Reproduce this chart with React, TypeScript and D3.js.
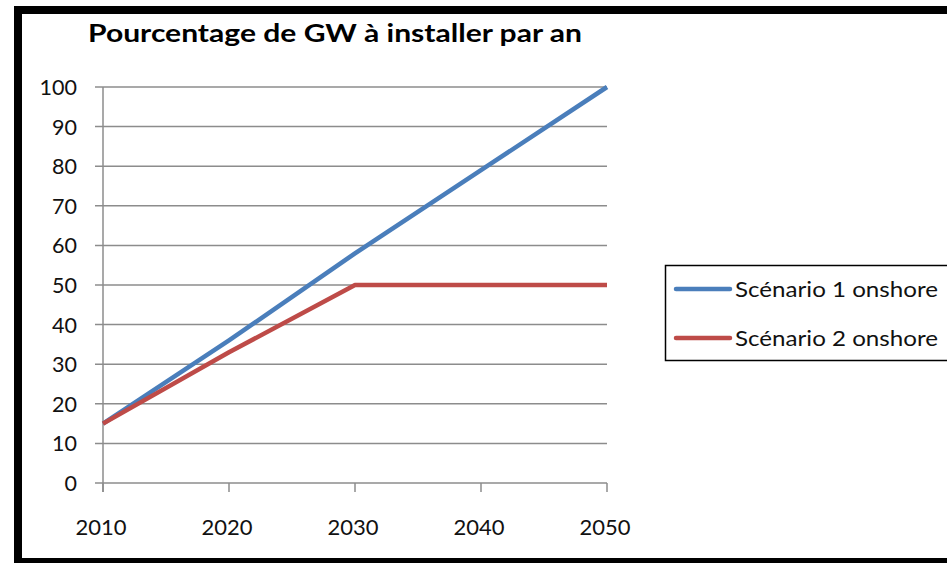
import React from 'react';
import * as d3 from 'd3';

const years = [2010, 2020, 2030, 2040, 2050];
const scenario1 = [15, 36, 58, 79, 100];
const scenario2 = [15, 33, 50, 50, 50];
const yTicks = [0, 10, 20, 30, 40, 50, 60, 70, 80, 90, 100];
const seriesNames = ['Scénario 1 onshore', 'Scénario 2 onshore'];
const seriesColors = ['#4A7EBB', '#BE4B48'];
const title = 'Pourcentage de GW à installer par an';

const W = 947;
const H = 563;
const font = 'Lato, "Open Sans", sans-serif';

export default function App() {
  const x = d3.scaleLinear().domain([2010, 2050]).range([103, 607]);
  const y = d3.scaleLinear().domain([0, 100]).range([483, 87]);
  const line = d3.line<[number, number]>()
    .x(d => x(d[0]))
    .y(d => y(d[1]));
  const series = [scenario1, scenario2].map(vals => years.map((yr, i) => [yr, vals[i]] as [number, number]));
  const grid = '#8c8c8c';

  return (
    <svg width={W} height={H} style={{ position: 'absolute', left: 0, top: 0, background: '#fff' }}>
      <rect x={18} y={10} width={1000} height={552} fill="#fff" stroke="#000" strokeWidth={8} />
      <text x={88} y={42} fontFamily={font} fontWeight="bold" fontSize={25.5} fill="#000"
        textLength={494} lengthAdjust="spacingAndGlyphs">{title}</text>

      {/* grid lines and y labels */}
      {yTicks.map(t => (
        <g key={t}>
          <line x1={95} x2={607} y1={y(t)} y2={y(t)} stroke={grid} strokeWidth={1.5} />
          <text x={77} y={y(t) + 8} textAnchor="end" fontFamily={font} fontSize={21.5} fill="#111">{t}</text>
        </g>
      ))}
      <line x1={103} x2={103} y1={y(100)} y2={y(0) + 9} stroke={grid} strokeWidth={1.5} />
      {years.map(yr => (
        <g key={yr}>
          <line x1={x(yr)} x2={x(yr)} y1={y(0)} y2={y(0) + 9} stroke={grid} strokeWidth={1.5} />
          <text x={x(yr) - 2} y={535} textAnchor="middle" fontFamily={font} fontSize={22} fill="#111">{yr}</text>
        </g>
      ))}

      {series.map((s, i) => (
        <path key={i} d={line(s) || ''} fill="none" stroke={seriesColors[i]} strokeWidth={4.5} strokeLinejoin="round" />
      ))}

      {/* legend */}
      <rect x={665.5} y={265.5} width={320} height={95} fill="#fff" stroke="#000" strokeWidth={1.5} />
      {seriesNames.map((n, i) => (
        <g key={n}>
          <line x1={676} x2={730} y1={289 + i * 49} y2={289 + i * 49} stroke={seriesColors[i]} strokeWidth={4.5} strokeLinecap="round" />
          <text x={735} y={297 + i * 49} fontFamily={font} fontSize={21.5} fill="#111"
            textLength={203} lengthAdjust="spacingAndGlyphs">{n}</text>
        </g>
      ))}
    </svg>
  );
}
